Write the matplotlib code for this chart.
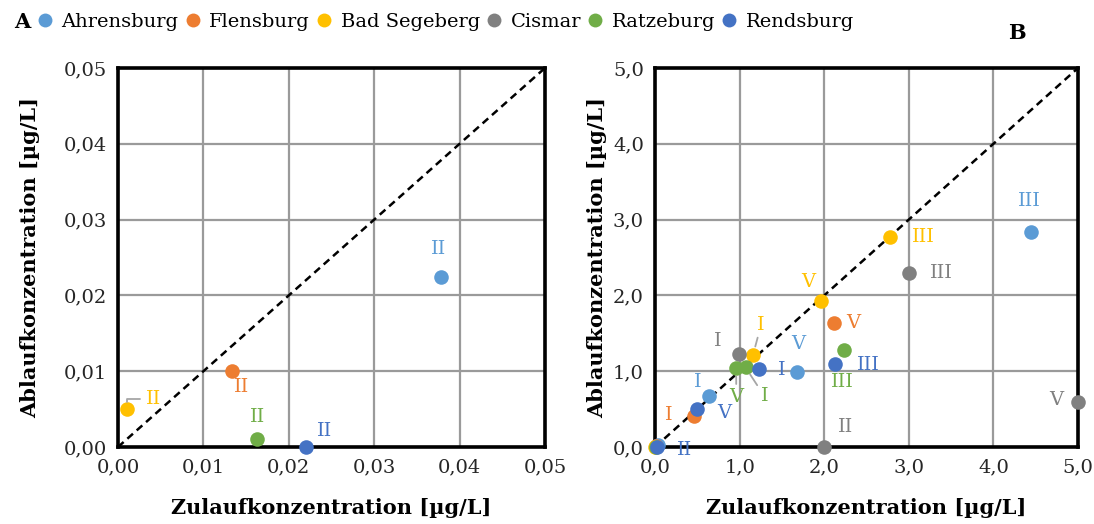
import matplotlib
matplotlib.use("Agg")
import matplotlib.pyplot as plt
from matplotlib.lines import Line2D
from matplotlib.ticker import FuncFormatter, MultipleLocator

plt.rcParams['font.family'] = ['DejaVu Serif']

# Sites and their colours
sites = ["Ahrensburg", "Flensburg", "Bad Segeberg", "Cismar", "Ratzeburg", "Rendsburg"]
colors = ["#5B9BD5", "#ED7D31", "#FFC000", "#808080", "#70AD47", "#4472C4"]

# Campaign labels and inflow / outflow concentrations [µg/L] per site
campaigns = {
    "Ahrensburg":   ["I", "II", "III", "V"],
    "Flensburg":    ["I", "II", "V"],
    "Bad Segeberg": ["I", "II", "III", "V"],
    "Cismar":       ["I", "II", "III", "V"],
    "Ratzeburg":    ["I", "II", "III", "V"],
    "Rendsburg":    ["I", "II", "III", "V"],
}
inflow = {
    "Ahrensburg":   [0.64, 0.0378, 4.44, 1.68],
    "Flensburg":    [0.46, 0.0133, 2.11],
    "Bad Segeberg": [1.16, 0.001, 2.78, 1.96],
    "Cismar":       [0.99, 2.00, 3.00, 5.00],
    "Ratzeburg":    [1.07, 0.0163, 2.23, 0.96],
    "Rendsburg":    [1.23, 0.022, 2.13, 0.50],
}
outflow = {
    "Ahrensburg":   [0.67, 0.0224, 2.84, 0.99],
    "Flensburg":    [0.41, 0.010, 1.64],
    "Bad Segeberg": [1.22, 0.005, 2.77, 1.93],
    "Cismar":       [1.23, 0.00, 2.30, 0.60],
    "Ratzeburg":    [1.05, 0.001, 1.28, 1.04],
    "Rendsburg":    [1.03, 0.00, 1.09, 0.50],
}

# Label placement (pixel offsets from the marker) and leader flags for both panels
label_offsets_b = {
    ("Ahrensburg", "I"): (-11, 14), ("Ahrensburg", "III"): (-1, 31), ("Ahrensburg", "V"): (1, 28),
    ("Flensburg", "I"): (-25, 1), ("Flensburg", "V"): (20, 0),
    ("Bad Segeberg", "I"): (8, 30), ("Bad Segeberg", "III"): (33, 0), ("Bad Segeberg", "V"): (-13, 19),
    ("Cismar", "I"): (-21, 13), ("Cismar", "II"): (21, 20), ("Cismar", "III"): (33, 0), ("Cismar", "V"): (-22, 2),
    ("Ratzeburg", "I"): (19, -29), ("Ratzeburg", "III"): (-1, -32), ("Ratzeburg", "V"): (0, -29),
    ("Rendsburg", "I"): (23, -1), ("Rendsburg", "II"): (28, -3), ("Rendsburg", "III"): (33, -1),
    ("Rendsburg", "V"): (27, -4),
}
leaders_b = {("Bad Segeberg", "I"), ("Ratzeburg", "I"), ("Ratzeburg", "V")}
label_offsets_a = {
    ("Ahrensburg", "II"): (-2, 28), ("Flensburg", "II"): (10, -16),
    ("Bad Segeberg", "II"): (27, 10), ("Ratzeburg", "II"): (0, 22),
    ("Rendsburg", "II"): (19, 16),
}

fig = plt.figure(figsize=(10.94, 5.24), dpi=100)
ax_a = fig.add_axes([118 / 1094, 1 - 447 / 524, 427 / 1094, 379 / 524])
ax_b = fig.add_axes([655 / 1094, 1 - 447 / 524, 423 / 1094, 379 / 524])

label_size = 15
tick_size = 14
point_label_size = 14


def style_axis(ax, limit, step, decimals, ylabelpad):
    ax.set_xlim(0, limit)
    ax.set_ylim(0, limit)
    ax.xaxis.set_major_locator(MultipleLocator(step))
    ax.yaxis.set_major_locator(MultipleLocator(step))
    fmt = FuncFormatter(lambda v, _: f"{v:.{decimals}f}".replace(".", ","))
    ax.xaxis.set_major_formatter(fmt)
    ax.yaxis.set_major_formatter(fmt)
    ax.grid(True, color="#9a9a9a", linewidth=1.6)
    ax.set_axisbelow(True)
    for sp in ax.spines.values():
        sp.set_linewidth(2.6)
        sp.set_color("black")
    ax.tick_params(length=0, labelsize=tick_size, pad=8, colors="#262626")
    ax.plot([0, limit], [0, limit], linestyle=(0, (3, 2)), color="black", linewidth=1.8, zorder=2)
    ax.set_xlabel("Zulaufkonzentration [µg/L]", fontsize=label_size, fontweight="bold", labelpad=16)
    ax.set_ylabel("Ablaufkonzentration [µg/L]", fontsize=label_size, fontweight="bold", labelpad=ylabelpad)


style_axis(ax_a, 0.05, 0.01, 2, 17)
style_axis(ax_b, 5.0, 1.0, 1, 4)

for site, col in zip(sites, colors):
    xs, ys, labs = inflow[site], outflow[site], campaigns[site]
    # Panel B shows every campaign
    ax_b.scatter(xs, ys, s=110, color=col, zorder=3, linewidths=0, clip_on=False)
    for x, y, lab in zip(xs, ys, labs):
        off = label_offsets_b.get((site, lab))
        if off is None:
            continue
        arrow = dict(arrowstyle="-", color="#a6a6a6", lw=1.3, shrinkA=1, shrinkB=6) if (site, lab) in leaders_b else None
        ax_b.annotate(lab, (x, y), xytext=off, textcoords="offset pixels", color=col,
                      fontsize=point_label_size, ha="center", va="center", arrowprops=arrow, zorder=4)
    # Panel A only the low-concentration campaign
    sel = [(x, y, lab) for x, y, lab in zip(xs, ys, labs) if x <= 0.05]
    for x, y, lab in sel:
        ax_a.scatter([x], [y], s=110, color=col, zorder=3, linewidths=0, clip_on=False)
        off = label_offsets_a[(site, lab)]
        arrow = None
        if site == "Bad Segeberg":
            arrow = dict(arrowstyle="-", color="#a6a6a6", lw=1.3, shrinkA=2, shrinkB=5,
                         connectionstyle="angle,angleA=0,angleB=90,rad=0")
        ax_a.annotate(lab, (x, y), xytext=off, textcoords="offset pixels", color=col,
                      fontsize=point_label_size, ha="center", va="center", arrowprops=arrow, zorder=4)

# Shared legend along the top
handles = [Line2D([], [], marker="o", linestyle="none", markersize=10, color=c, markeredgewidth=0)
           for c in colors]
fig.legend(handles, sites, loc="center left", bbox_to_anchor=(38 / 1094, 1 - 22 / 524), ncol=6,
           frameon=False, fontsize=14, handletextpad=0.5, columnspacing=0.38, handlelength=0.7,
           borderaxespad=0, borderpad=0)

fig.text(22 / 1094, 1 - 22 / 524, "A", fontsize=15, fontweight="bold", ha="center", va="center")
fig.text(1017 / 1094, 1 - 33 / 524, "B", fontsize=15, fontweight="bold", ha="center", va="center")

fig.savefig("out.png", dpi=100)
